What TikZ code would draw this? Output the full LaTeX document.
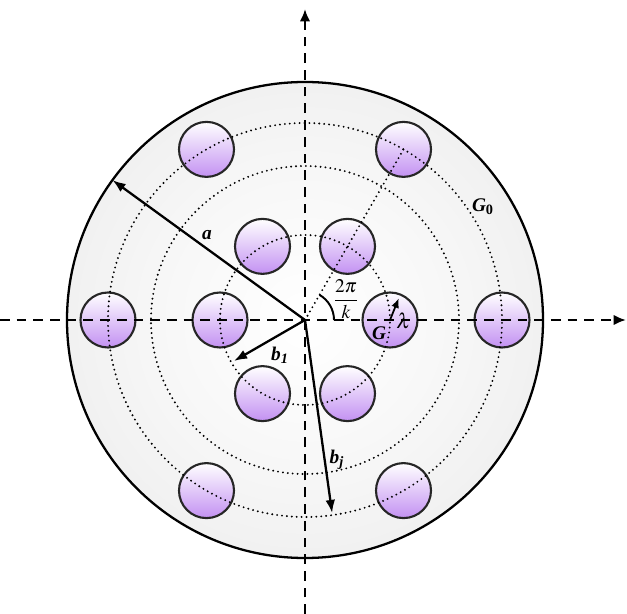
\documentclass[tikz,border=0pt]{standalone}
\usepackage{mathptmx}
\usepackage{fontspec}
\setmainfont{Liberation Serif}
\usetikzlibrary{arrows.meta,calc}

\definecolor{lilac}{RGB}{195,145,242}
\pgfdeclareradialshading{diskshade}{\pgfpoint{0bp}{0bp}}{%
  color(0bp)=(white); color(15bp)=(white!97!black); color(50bp)=(white!88!black)}

\tikzset{
  pipe/.style={circle, draw=black!85, line width=1.2pt, minimum size=1.1cm,
    inner sep=0pt, top color=white, bottom color=lilac},
  ring/.style={line width=1.2pt, line cap=round, dash pattern=on 0pt off 2.8pt},
  axis/.style={line width=1.4pt, dash pattern=on 5.5pt off 4pt,
    -{Latex[length=7pt,width=6pt]}},
  vec/.style={line width=1.3pt, -{Latex[length=7.5pt,width=5.5pt]}},
  lbl/.style={font=\bfseries\itshape\fontsize{11}{13}\selectfont}
}

\begin{document}
\begin{tikzpicture}
  \useasboundingbox (-6.1,-5.88) rectangle (6.44,6.4);
  % Radii: outer disk, inner ring, middle ring, outer ring
  \def\R{4.76}
  \def\rA{1.7}
  \def\rB{3.08}
  \def\rC{3.94}
  \coordinate (O) at (0,0);

  % Shaded disk
  \shade[shading=diskshade] (O) circle (\R);
  \draw[line width=1.3pt] (O) circle (\R);

  % Pipes on the inner and outer rings
  \foreach \ang [count=\i] in {0,60,...,300}{
    \node[pipe] (in\i) at (\ang:\rA) {};
    \node[pipe] (out\i) at (\ang:\rC) {};
  }

  % Dotted rings and radial line
  \draw[ring] (O) circle (\rA);
  \draw[ring] (O) circle (\rB);
  \draw[ring] (O) circle (\rC);
  \draw[ring] (O) -- (out2.center);

  % Axes
  \coordinate (xl) at (-6.1,0);
  \coordinate (xr) at (6.42,0);
  \coordinate (yb) at (0,-5.88);
  \coordinate (yt) at (0,6.22);
  \draw[axis] (xl) -- (xr);
  \draw[axis] (yb) -- (yt);

  % Angle between neighbours
  \draw[line width=1.1pt] (0.58,0) arc[start angle=0, end angle=60, radius=0.58];
  \node (ang) at (0.82,0.42) {\fontsize{11}{13}\selectfont$\displaystyle\frac{2\pi}{k}$};

  % Radius vectors
  \coordinate (aend) at (144:\R);
  \coordinate (b1end) at (210:1.64);
  \coordinate (bjend) at (278:3.9);
  \draw[vec] (O) -- (aend);
  \draw[vec] (O) -- (b1end);
  \draw[vec] (O) -- (bjend);

  % Pipe radius
  \coordinate (lamend) at ($(in1.center)+(68:0.47)$);
  \draw[line width=1pt, -{Latex[length=5.5pt,width=4.5pt]}] (in1.center) -- (lamend);

  % Labels
  \node[lbl] (la) at (-1.96,1.7) {a};
  \node[lbl] (lb1) at (-0.5,-0.7) {b\textsubscript{1}};
  \node[lbl] (lbj) at (0.64,-2.8) {b\textsubscript{j}};
  \node[lbl] (lg0) at (3.56,2.26) {G\textsubscript{\upshape 0}};
  \node[lbl] (lg) at (1.48,-0.27) {G};
  \node (llam) at (1.97,-0.02) {\fontsize{12}{14}\selectfont$\lambda$};
\end{tikzpicture}
\end{document}
